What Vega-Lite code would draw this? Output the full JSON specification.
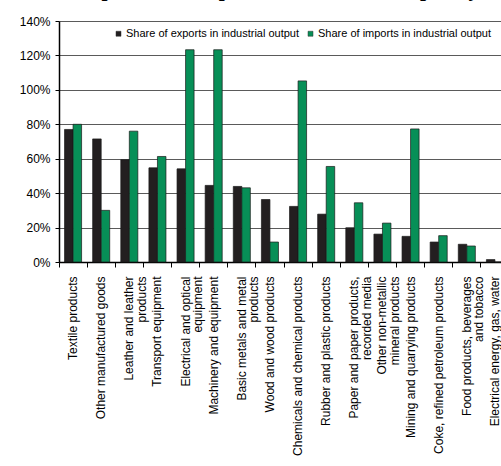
{
  "$schema": "https://vega.github.io/schema/vega-lite/v6.json",
  "width": 442,
  "height": 241,
  "autosize": {"type": "none"},
  "padding": {"left": 59, "top": 21, "right": 0, "bottom": 204},
  "background": "white",
  "title": {
    "text": "Exports and imports in industrial output by industry",
    "font": "Liberation Serif",
    "fontWeight": "bold",
    "fontSize": 21.5,
    "anchor": "start",
    "frame": "group",
    "baseline": "alphabetic",
    "dx": 17.5,
    "dy": 5.5,
    "offset": 3,
    "color": "#000000"
  },
  "data": {
    "values": [
      {"category": "Textile products", "series": "Share of exports in industrial output", "value": 0.77},
      {"category": "Textile products", "series": "Share of imports in industrial output", "value": 0.80},
      {"category": "Other manufactured goods", "series": "Share of exports in industrial output", "value": 0.715},
      {"category": "Other manufactured goods", "series": "Share of imports in industrial output", "value": 0.30},
      {"category": "Leather and leather|products", "series": "Share of exports in industrial output", "value": 0.594},
      {"category": "Leather and leather|products", "series": "Share of imports in industrial output", "value": 0.76},
      {"category": "Transport equipment", "series": "Share of exports in industrial output", "value": 0.547},
      {"category": "Transport equipment", "series": "Share of imports in industrial output", "value": 0.613},
      {"category": "Electrical and optical|equipment", "series": "Share of exports in industrial output", "value": 0.541},
      {"category": "Electrical and optical|equipment", "series": "Share of imports in industrial output", "value": 1.233},
      {"category": "Machinery and equipment", "series": "Share of exports in industrial output", "value": 0.445},
      {"category": "Machinery and equipment", "series": "Share of imports in industrial output", "value": 1.233},
      {"category": "Basic metals and metal|products", "series": "Share of exports in industrial output", "value": 0.439},
      {"category": "Basic metals and metal|products", "series": "Share of imports in industrial output", "value": 0.431},
      {"category": "Wood and wood products", "series": "Share of exports in industrial output", "value": 0.363},
      {"category": "Wood and wood products", "series": "Share of imports in industrial output", "value": 0.116},
      {"category": "Chemicals and chemical products", "series": "Share of exports in industrial output", "value": 0.323},
      {"category": "Chemicals and chemical products", "series": "Share of imports in industrial output", "value": 1.052},
      {"category": "Rubber and plastic products", "series": "Share of exports in industrial output", "value": 0.278},
      {"category": "Rubber and plastic products", "series": "Share of imports in industrial output", "value": 0.555},
      {"category": "Paper and paper products,|recorded media", "series": "Share of exports in industrial output", "value": 0.199},
      {"category": "Paper and paper products,|recorded media", "series": "Share of imports in industrial output", "value": 0.344},
      {"category": "Other non-metallic|mineral products", "series": "Share of exports in industrial output", "value": 0.162},
      {"category": "Other non-metallic|mineral products", "series": "Share of imports in industrial output", "value": 0.226},
      {"category": "Mining and quarrying products", "series": "Share of exports in industrial output", "value": 0.149},
      {"category": "Mining and quarrying products", "series": "Share of imports in industrial output", "value": 0.773},
      {"category": "Coke, refined petroleum products", "series": "Share of exports in industrial output", "value": 0.116},
      {"category": "Coke, refined petroleum products", "series": "Share of imports in industrial output", "value": 0.153},
      {"category": "Food products, beverages|and tobacco", "series": "Share of exports in industrial output", "value": 0.103},
      {"category": "Food products, beverages|and tobacco", "series": "Share of imports in industrial output", "value": 0.093},
      {"category": "Electrical energy, gas, water", "series": "Share of exports in industrial output", "value": 0.014},
      {"category": "Electrical energy, gas, water", "series": "Share of imports in industrial output", "value": 0.0}
    ]
  },
  "mark": {"type": "bar", "stroke": "#1a1a1a", "strokeWidth": 0.7},
  "encoding": {
    "x": {
      "field": "category",
      "type": "nominal",
      "sort": null,
      "scale": {"range": [0, 450], "paddingInner": 0, "paddingOuter": 0},
      "axis": {
        "title": null,
        "labelAngle": -90,
        "labelAlign": "right",
        "labelBaseline": "middle",
        "labelFont": "Liberation Sans",
        "labelFontSize": 12,
        "labelColor": "#000000",
        "labelLimit": 400,
        "labelLineHeight": 12.5,
        "labelExpr": "split(datum.value, '|')",
        "bandPosition": 0,
        "labelOffset": 0,
        "tickSize": 5,
        "tickColor": "#000000",
        "labelPadding": 9,
        "domainColor": "#000000",
        "domainWidth": 1.5,
        "grid": false
      }
    },
    "xOffset": {
      "field": "series",
      "type": "nominal",
      "scale": {"paddingInner": 0, "paddingOuter": 0.65}
    },
    "y": {
      "field": "value",
      "type": "quantitative",
      "scale": {"domain": [0, 1.4], "nice": false},
      "axis": {
        "title": null,
        "values": [0, 0.2, 0.4, 0.6, 0.8, 1.0, 1.2, 1.4],
        "format": ".0%",
        "labelFont": "Liberation Sans",
        "labelFontSize": 12,
        "labelColor": "#000000",
        "tickSize": 4,
        "tickColor": "#000000",
        "labelPadding": 5,
        "domainColor": "#000000",
        "domainWidth": 1.5,
        "grid": true,
        "gridColor": "#5a5a5a",
        "gridWidth": 1
      }
    },
    "color": {
      "field": "series",
      "type": "nominal",
      "scale": {
        "domain": ["Share of exports in industrial output", "Share of imports in industrial output"],
        "range": ["#231f20", "#078f57"]
      },
      "legend": {
        "title": null,
        "orient": "none",
        "legendX": 54,
        "legendY": 7,
        "direction": "horizontal",
        "symbolType": "square",
        "symbolSize": 25,
        "symbolStrokeWidth": 0.5,
        "symbolStrokeColor": "#333333",
        "labelFont": "Liberation Sans",
        "labelFontSize": 11,
        "labelColor": "#000000",
        "labelOffset": 2,
        "columnPadding": 5,
        "labelLimit": 300
      }
    }
  },
  "config": {
    "view": {"stroke": null}
  }
}
